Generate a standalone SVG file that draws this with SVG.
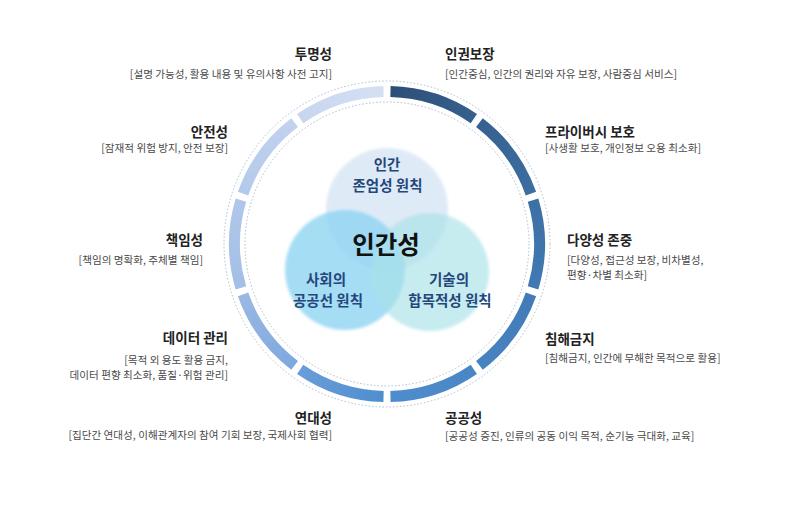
<svg xmlns="http://www.w3.org/2000/svg" width="795" height="516" viewBox="0 0 795 516">
<defs>
<style>
.t{font-family:"Noto Sans CJK KR","Noto Sans",sans-serif;font-size:13.5px;font-weight:bold;fill:#222}
.d{font-family:"Noto Sans CJK KR","Noto Sans",sans-serif;font-size:10.6px;fill:#4a4a4a}
.c{font-family:"Noto Sans CJK KR","Noto Sans",sans-serif;font-size:14.5px;font-weight:bold;fill:#24477c;text-anchor:middle}
.m{font-family:"Noto Sans CJK KR","Noto Sans",sans-serif;font-size:24.5px;font-weight:bold;fill:#111;text-anchor:middle}
.e{text-anchor:end}
.seg{fill:none;stroke-width:11}
.dot{fill:none;stroke:#a9bfd4;stroke-width:1;stroke-dasharray:1.5 2}
</style>
<filter id="soft" x="-20%" y="-20%" width="140%" height="140%"><feGaussianBlur stdDeviation="1.6"/></filter>
<linearGradient id="g0" gradientUnits="userSpaceOnUse" x1="390.46" y1="91.54" x2="473.82" y2="118.62"><stop offset="0" stop-color="#2c4f78"/><stop offset="1" stop-color="#35608d"/></linearGradient>
<linearGradient id="g1" gradientUnits="userSpaceOnUse" x1="479.41" y1="122.69" x2="530.93" y2="193.60"><stop offset="0" stop-color="#36618f"/><stop offset="1" stop-color="#3c6ea2"/></linearGradient>
<linearGradient id="g2" gradientUnits="userSpaceOnUse" x1="533.07" y1="200.18" x2="533.07" y2="287.82"><stop offset="0" stop-color="#3d70a5"/><stop offset="1" stop-color="#4179b4"/></linearGradient>
<linearGradient id="g3" gradientUnits="userSpaceOnUse" x1="530.93" y1="294.40" x2="479.41" y2="365.31"><stop offset="0" stop-color="#427bb7"/><stop offset="1" stop-color="#4784c2"/></linearGradient>
<linearGradient id="g4" gradientUnits="userSpaceOnUse" x1="473.82" y1="369.38" x2="390.46" y2="396.46"><stop offset="0" stop-color="#4986c5"/><stop offset="1" stop-color="#4e8dcd"/></linearGradient>
<linearGradient id="g5" gradientUnits="userSpaceOnUse" x1="383.54" y1="396.46" x2="300.18" y2="369.38"><stop offset="0" stop-color="#4f8ecf"/><stop offset="1" stop-color="#6a9dd8"/></linearGradient>
<linearGradient id="g6" gradientUnits="userSpaceOnUse" x1="294.59" y1="365.31" x2="243.07" y2="294.40"><stop offset="0" stop-color="#7ea8de"/><stop offset="1" stop-color="#9ab8e4"/></linearGradient>
<linearGradient id="g7" gradientUnits="userSpaceOnUse" x1="240.93" y1="287.82" x2="240.93" y2="200.18"><stop offset="0" stop-color="#a3bfe6"/><stop offset="1" stop-color="#b0c7ea"/></linearGradient>
<linearGradient id="g8" gradientUnits="userSpaceOnUse" x1="243.07" y1="193.60" x2="294.59" y2="122.69"><stop offset="0" stop-color="#b4caea"/><stop offset="1" stop-color="#c1d2ee"/></linearGradient>
<linearGradient id="g9" gradientUnits="userSpaceOnUse" x1="300.18" y1="118.62" x2="383.54" y2="91.54"><stop offset="0" stop-color="#c7d5ef"/><stop offset="1" stop-color="#d5e0f3"/></linearGradient>
</defs>
<rect width="795" height="516" fill="#ffffff"/>

<g id="ring">
<circle class="dot" cx="387" cy="244" r="163"/>
<circle class="dot" cx="387" cy="244" r="142"/>
</g>

<g id="venn">
<circle cx="387" cy="209" r="61" fill="#dfeaf7" filter="url(#soft)"/>
<circle cx="345" cy="270" r="60" fill="#8cd4f2" fill-opacity="0.78" filter="url(#soft)"/>
<circle cx="430" cy="272" r="59" fill="#a8e2e8" fill-opacity="0.65" filter="url(#soft)"/>
<text class="c" x="387" y="170">인간</text>
<text class="c" x="387.5" y="191">존엄성 원칙</text>
<text class="m" x="386" y="254">인간성</text>
<text class="c" x="326" y="285">사회의</text>
<text class="c" x="328" y="306">공공선 원칙</text>
<text class="c" x="449" y="285">기술의</text>
<text class="c" x="450" y="306">합목적성 원칙</text>
</g>

<g id="connectors">
<path class="seg" stroke="url(#g0)" d="M390.46,91.54 A152.5,152.5 0 0 1 473.82,118.62"/>
<path class="seg" stroke="url(#g1)" d="M479.41,122.69 A152.5,152.5 0 0 1 530.93,193.60"/>
<path class="seg" stroke="url(#g2)" d="M533.07,200.18 A152.5,152.5 0 0 1 533.07,287.82"/>
<path class="seg" stroke="url(#g3)" d="M530.93,294.40 A152.5,152.5 0 0 1 479.41,365.31"/>
<path class="seg" stroke="url(#g4)" d="M473.82,369.38 A152.5,152.5 0 0 1 390.46,396.46"/>
<path class="seg" stroke="url(#g5)" d="M383.54,396.46 A152.5,152.5 0 0 1 300.18,369.38"/>
<path class="seg" stroke="url(#g6)" d="M294.59,365.31 A152.5,152.5 0 0 1 243.07,294.40"/>
<path class="seg" stroke="url(#g7)" d="M240.93,287.82 A152.5,152.5 0 0 1 240.93,200.18"/>
<path class="seg" stroke="url(#g8)" d="M243.07,193.60 A152.5,152.5 0 0 1 294.59,122.69"/>
<path class="seg" stroke="url(#g9)" d="M300.18,118.62 A152.5,152.5 0 0 1 383.54,91.54"/>
</g>

<g id="n-transparency">
<text class="t e" x="332" y="59">투명성</text>
<text class="d e" x="332" y="78">[설명 가능성, 활용 내용 및 유의사항 사전 고지]</text>
</g>
<g id="n-safety">
<text class="t e" x="228" y="137">안전성</text>
<text class="d e" x="228" y="152">[잠재적 위험 방지, 안전 보장]</text>
</g>
<g id="n-responsibility">
<text class="t e" x="203" y="245">책임성</text>
<text class="d e" x="203" y="264">[책임의 명확화, 주체별 책임]</text>
</g>
<g id="n-data">
<text class="t e" x="228" y="343">데이터 관리</text>
<text class="d e" x="228" y="364">[목적 외 용도 활용 금지,</text>
<text class="d e" x="228" y="379">데이터 편향 최소화, 품질·위험 관리]</text>
</g>
<g id="n-solidarity">
<text class="t e" x="332" y="423">연대성</text>
<text class="d e" x="332" y="439">[집단간 연대성, 이해관계자의 참여 기회 보장, 국제사회 협력]</text>
</g>
<g id="n-rights">
<text class="t" x="445" y="59">인권보장</text>
<text class="d" x="445" y="78">[인간중심, 인간의 권리와 자유 보장, 사람중심 서비스]</text>
</g>
<g id="n-privacy">
<text class="t" x="545" y="137">프라이버시 보호</text>
<text class="d" x="545" y="152">[사생활 보호, 개인정보 오용 최소화]</text>
</g>
<g id="n-diversity">
<text class="t" x="567" y="245">다양성 존중</text>
<text class="d" x="567" y="264">[다양성, 접근성 보장, 비차별성,</text>
<text class="d" x="567" y="279">편향·차별 최소화]</text>
</g>
<g id="n-noharm">
<text class="t" x="545" y="344">침해금지</text>
<text class="d" x="545" y="362">[침해금지, 인간에 무해한 목적으로 활용]</text>
</g>
<g id="n-public">
<text class="t" x="445" y="423">공공성</text>
<text class="d" x="445" y="440">[공공성 증진, 인류의 공동 이익 목적, 순기능 극대화, 교육]</text>
</g>
</svg>
